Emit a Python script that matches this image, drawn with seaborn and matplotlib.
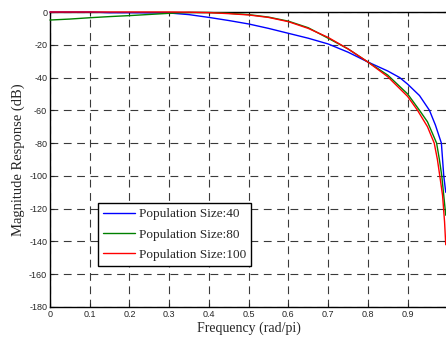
import matplotlib
matplotlib.use("Agg")
import matplotlib.pyplot as plt
import seaborn as sns
import pandas as pd

# values (frequency in rad/pi, magnitude in dB)
freq_40 = [0, 0.05, 0.1, 0.15, 0.2, 0.25, 0.3, 0.35, 0.4, 0.45, 0.5, 0.55, 0.6, 0.65,
           0.7, 0.75, 0.8, 0.85, 0.88, 0.9, 0.93, 0.955, 0.97, 0.985, 0.991, 0.996]
mag_40 = [0, 0, 0, -0.4, -0.4, -0.5, -0.6, -1.6, -3.3, -5.2, -7.3, -10, -13, -16,
          -19.5, -24.5, -30.5, -36, -40, -44, -51, -60, -69, -80, -100, -110]

freq_80 = [0, 0.05, 0.1, 0.15, 0.2, 0.25, 0.3, 0.35, 0.4, 0.45, 0.5, 0.55, 0.6, 0.65,
           0.7, 0.75, 0.8, 0.85, 0.9, 0.93, 0.95, 0.973, 0.98, 0.986, 0.991, 0.996]
mag_80 = [-4.9, -4.3, -3.5, -2.8, -2.2, -1.5, -0.8, -0.3, -0.3, -0.8, -1.6, -3.1, -5.6, -9.6,
          -16, -22.5, -30.5, -38.5, -50, -60, -67, -80, -90, -100, -112, -124]

freq_100 = [0, 0.05, 0.1, 0.15, 0.2, 0.25, 0.3, 0.35, 0.4, 0.45, 0.5, 0.55, 0.6, 0.65,
            0.7, 0.75, 0.8, 0.85, 0.9, 0.925, 0.95, 0.967, 0.975, 0.981, 0.988, 0.993, 0.996]
mag_100 = [0, 0, 0, 0, 0, 0, 0, -0.1, -0.4, -1.0, -1.8, -3.3, -5.9, -10,
           -15.5, -22.5, -30.5, -39.5, -51.5, -60, -70, -80, -90, -100, -112, -128, -142]

labels = ["Population Size:40", "Population Size:80", "Population Size:100"]
colors = ["#0000ff", "#008000", "#ff0000"]

df = pd.concat([
    pd.DataFrame({"freq": f, "mag": m, "series": lab})
    for f, m, lab in zip([freq_40, freq_80, freq_100], [mag_40, mag_80, mag_100], labels)
])

sns.set_style("ticks")
plt.rcParams["axes.unicode_minus"] = False

fig = plt.figure(figsize=(4.46, 3.43), dpi=100)
ax = fig.add_axes([0.112, 0.105, 0.891, 0.860])

sns.lineplot(data=df, x="freq", y="mag", hue="series", palette=colors,
             hue_order=labels, linewidth=1.0, ax=ax, sort=False)
for ln in ax.lines:
    ln.set_clip_on(False)
    ln.set_zorder(5)

ax.set_xlim(0, 1)
ax.set_ylim(-180, 0)
ax.set_xticks([0, 0.1, 0.2, 0.3, 0.4, 0.5, 0.6, 0.7, 0.8, 0.9])
ax.set_xticklabels(["0", "0.1", "0.2", "0.3", "0.4", "0.5", "0.6", "0.7", "0.8", "0.9"])
ax.set_yticks(range(-180, 1, 20))
ax.tick_params(direction="in", length=3, width=0.8, labelsize=6.5, pad=2)
for t in ax.get_xticklabels() + ax.get_yticklabels():
    t.set_family("Liberation Sans")
ax.tick_params(top=True, right=True)

ax.grid(True, color="#3a3a3a", linestyle=(0, (7, 5)), linewidth=0.8)
for s in ax.spines.values():
    s.set_linewidth(1.0)
    s.set_color("black")

ax.set_xlabel("Frequency (rad/pi)", family="Liberation Serif", fontsize=10, labelpad=2)
ax.set_ylabel("Magnitude Response (dB)", family="Liberation Serif", fontsize=10.5, labelpad=3)

leg = ax.legend(loc="lower left", bbox_to_anchor=(0.121, 0.139), borderaxespad=0,
                frameon=True, fancybox=False, edgecolor="black", framealpha=1,
                prop={"family": "Liberation Serif", "size": 9.5},
                handlelength=2.4, borderpad=0.4, labelspacing=0.6, handletextpad=0.3)
leg.get_frame().set_linewidth(1.0)
leg.set_zorder(6)

fig.savefig("out.png", dpi=100)
